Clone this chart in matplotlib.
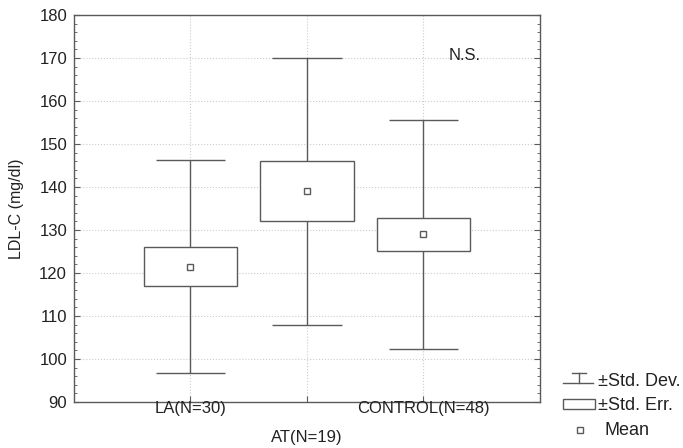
import matplotlib
matplotlib.use('Agg')
import matplotlib.pyplot as plt
from matplotlib.lines import Line2D
from matplotlib.patches import Rectangle
from matplotlib.ticker import MultipleLocator

plt.rcParams['font.family'] = ['Liberation Sans', 'DejaVu Sans']

groups = ['LA(N=30)', 'AT(N=19)', 'CONTROL(N=48)']
means = [121.5, 139.0, 129.0]
std_dev = [24.8, 31.0, 26.6]
std_err = [4.5, 7.0, 3.85]

line_col = '#5a5a5a'
text_col = '#222222'
W, H = 683, 448

fig = plt.figure(figsize=(W / 100, H / 100), dpi=100)
ax = fig.add_axes([74 / W, 1 - 402 / H, 466 / W, 387 / H])

xs = list(range(1, len(groups) + 1))
for x, m, sd, se in zip(xs, means, std_dev, std_err):
    # whiskers (std dev)
    ax.vlines(x, m - sd, m + sd, color=line_col, lw=1, zorder=2)
    ax.hlines([m - sd, m + sd], x - 0.3, x + 0.3, color=line_col, lw=1, zorder=2)
    # box (std err)
    ax.bar(x, 2 * se, bottom=m - se, width=0.8, facecolor='white',
           edgecolor=line_col, lw=1, zorder=3)
    # mean
    ax.plot(x, m, marker='s', ms=5, mfc='white', mec=line_col, mew=1, zorder=4)

ax.set_xlim(0, 4)
ax.set_ylim(90, 180)
ax.set_xticks(xs)
ax.set_xticklabels([])
ax.yaxis.set_major_locator(MultipleLocator(10))
ax.yaxis.set_minor_locator(MultipleLocator(2))
ax.tick_params(axis='y', which='both', direction='in', left=True, right=True,
               labelsize=12, colors=line_col, labelcolor=text_col, pad=5)
ax.tick_params(axis='y', which='major', length=4)
ax.tick_params(axis='y', which='minor', length=2)
ax.tick_params(axis='x', direction='in', length=4, colors=line_col)
ax.grid(True, which='major', linestyle=':', color='#cccccc', lw=0.8)
ax.set_axisbelow(True)
for s in ax.spines.values():
    s.set_color(line_col)
    s.set_linewidth(1)

# staggered category labels (pixel offsets below the axis)
for i, (x, g) in enumerate(zip(xs, groups)):
    dy = 6 if i % 2 == 0 else 35
    ax.annotate(g, (x, 90), xytext=(0, -dy), textcoords='offset pixels',
                ha='center', va='center', fontsize=12, color=text_col,
                annotation_clip=False)

ax.set_ylabel('LDL-C (mg/dl)', fontsize=11.5, color=text_col)
ax.yaxis.set_label_coords(-0.108, 0.5)
ax.text(3.35, 170.5, 'N.S.', ha='center', va='center', fontsize=12, color=text_col)

# legend drawn outside the axes (pixel positions)
def fp(px, py):
    return px / W, 1 - py / H

lkw = dict(color=line_col, lw=1, transform=fig.transFigure)
for (x0, y0), (x1, y1) in [((572, 373), (586, 373)), ((563, 383), (593, 383)),
                           ((579, 373), (579, 383))]:
    a, b = fp(x0, y0)
    c, d = fp(x1, y1)
    fig.add_artist(Line2D([a, c], [b, d], **lkw))
rx, ry = fp(563, 409)
fig.add_artist(Rectangle((rx, ry), 32 / W, 10 / H, transform=fig.transFigure,
                         facecolor='white', edgecolor=line_col, lw=1))
mx, my = fp(580, 430)
fig.add_artist(Line2D([mx], [my], marker='s', ms=5, mfc='white', mec=line_col,
                      mew=1, transform=fig.transFigure))
for txt, (px, py) in [('±Std. Dev.', (598, 381)), ('±Std. Err.', (598, 405)),
                      ('Mean', (605, 430))]:
    tx, ty = fp(px, py)
    fig.text(tx, ty, txt, ha='left', va='center', fontsize=13, color=text_col)

fig.savefig('out.png', dpi=100)
